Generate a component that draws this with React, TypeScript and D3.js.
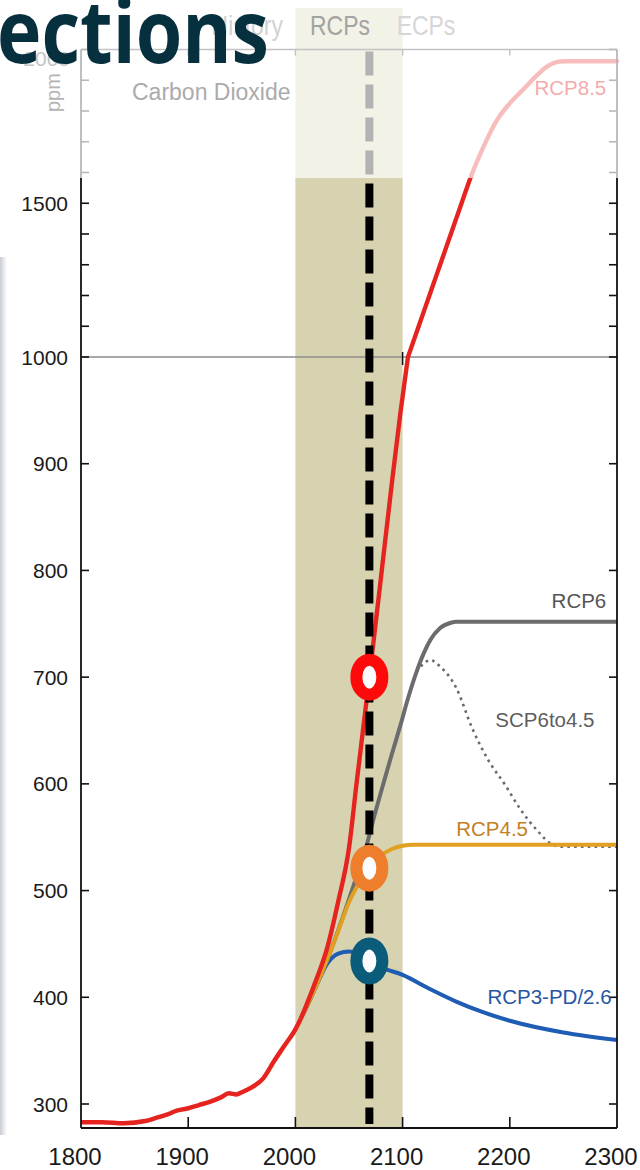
import React from 'react';
import * as d3 from 'd3';

// ---------- data ----------
const historyYears = [1800, 1820, 1840, 1860, 1870, 1880, 1890, 1900, 1910, 1920, 1930, 1938, 1945, 1950, 1960, 1970, 1980, 1990, 2000, 2005];
const historyPpm = [283, 283, 282, 284, 287, 290, 294, 296, 299, 302, 306, 310, 309, 311, 316, 324, 340, 355, 370, 380];

const rcp85Years = [2005, 2010, 2017, 2020, 2029, 2040, 2050, 2057, 2069, 2080, 2090, 2098, 2105, 2115, 2125, 2135, 2145, 2155, 2163, 2175, 2188, 2200, 2212, 2225, 2235, 2241, 2247, 2252, 2300];
const rcp85Ppm = [380, 392, 410, 418, 444, 490, 540, 600, 700, 795, 882, 948, 1000, 1100, 1200, 1300, 1400, 1500, 1580, 1680, 1770, 1825, 1868, 1915, 1945, 1956, 1961, 1962, 1962];

const rcp6Years = [2005, 2010, 2020, 2030, 2040, 2050, 2060, 2066, 2075, 2082, 2090, 2098, 2105, 2113, 2120, 2126, 2135, 2145, 2150, 2300];
const rcp6Ppm = [380, 390, 412, 436, 463, 492, 522, 541, 575, 600, 628, 655, 680, 705, 723, 735, 746, 751, 752, 752];

const scpYears = [2113, 2120, 2126, 2135, 2150, 2165, 2180, 2195, 2210, 2225, 2240, 2250, 2300];
const scpPpm = [705, 713, 716, 710, 690, 652, 622, 600, 576, 557, 543, 541, 541];

const rcp45Years = [2005, 2010, 2020, 2030, 2040, 2050, 2060, 2069, 2080, 2090, 2100, 2110, 2300];
const rcp45Ppm = [380, 390, 412, 436, 462, 489, 508, 522, 533, 539, 542, 543, 543];

const rcp26Years = [2005, 2010, 2020, 2030, 2040, 2050, 2060, 2069, 2080, 2100, 2125, 2150, 2175, 2200, 2250, 2300];
const rcp26Ppm = [380, 390, 412, 432, 441, 443, 440, 434, 428, 421, 408, 396, 386, 378, 367, 360];

const markerYear = 2069;
const markerPpm = [700, 521, 434];
const markerColors = ['#ff0a0a', '#ee7d2c', '#0b5b7a'];

const xTicks = [1800, 1900, 2000, 2100, 2200, 2300];
const yTicksLow = [300, 400, 500, 600, 700, 800, 900, 1000];
const yTicksHigh = [1100, 1200, 1300, 1400, 1500, 1600, 1700, 1800, 1900, 2000];
const yLabelsHigh = [1500];

const seriesLabels = [
  { text: 'RCP6', x: 2290, ppm: 765, color: '#555555' },
  { text: 'SCP6to4.5', x: 2279, ppm: 653, color: '#5e5e5e' },
  { text: 'RCP4.5', x: 2217, ppm: 551, color: '#c4801f' },
  { text: 'RCP3-PD/2.6', x: 2295, ppm: 394, color: '#2556a6' },
];

// ---------- scales ----------
const x = d3.scaleLinear().domain([1800, 2300]).range([81, 617]);
const yLow = d3.scaleLinear().domain([300, 1000]).range([1104, 357]);
const yHigh = d3.scaleLinear().domain([1000, 2000]).range([357, 49.5]);
const y = (v: number) => (v <= 1000 ? yLow(v) : yHigh(v));
const yBottom = 1128;
const yTop = yHigh(2000);

const line = d3
  .line<[number, number]>()
  .x((d) => x(d[0]))
  .y((d) => y(d[1]))
  .curve(d3.curveMonotoneX);

const zip = (a: number[], b: number[]) => a.map((v, i) => [v, b[i]] as [number, number]);

const FONT = '"Liberation Sans", Arial, Helvetica, sans-serif';

export default function App() {
  const dashX = x(markerYear);
  const rcp85 = zip(rcp85Years, rcp85Ppm);
  const rcp85Low = rcp85.filter((d) => d[1] <= 1000);
  const rcp85High = rcp85.filter((d) => d[1] >= 1000);
  return (
    <svg width={640} height={1170} style={{ position: 'absolute', left: 0, top: 0, background: '#fff' }}>
      <defs>
        <linearGradient id="edge" x1="0" x2="1" y1="0" y2="0">
          <stop offset="0" stopColor="#c9cdd2" />
          <stop offset="1" stopColor="#ffffff" />
        </linearGradient>
      </defs>
      <rect x={0} y={0} width={640} height={1170} fill="#ffffff" />
      {/* edge of neighbouring panel */}
      <rect x={0} y={257} width={7} height={878} fill="url(#edge)" />

      {/* RCP period band */}
      <rect x={x(2000)} y={8} width={x(2100) - x(2000)} height={yBottom - 8} fill="#d7d3b0" />

      {/* panel divider */}
      <line x1={x(1800)} x2={x(2300)} y1={y(1000)} y2={y(1000)} stroke="#8c8c8c" strokeWidth={1.3} />
      <line x1={x(2100)} x2={x(2100)} y1={y(1000) - 5} y2={y(1000) + 8} stroke="#111" strokeWidth={1.5} />

      {/* curves */}
      <path d={line(zip(rcp6Years, rcp6Ppm)) || ''} fill="none" stroke="#6c6c6e" strokeWidth={4} />
      <path d={line(zip(scpYears, scpPpm)) || ''} fill="none" stroke="#6a6a6c" strokeWidth={2.6} strokeDasharray="2.6 4.2" />
      <path d={line(zip(rcp26Years, rcp26Ppm)) || ''} fill="none" stroke="#1f5cb4" strokeWidth={4} />
      <path d={line(zip(rcp45Years, rcp45Ppm)) || ''} fill="none" stroke="#e2a020" strokeWidth={4} />
      <path d={line(rcp85Low) || ''} fill="none" stroke="#e52420" strokeWidth={4.4} strokeLinejoin="round" />
      <path d={line(rcp85High) || ''} fill="none" stroke="#e52420" strokeWidth={4.4} strokeLinecap="round" />
      <path d={line(zip(historyYears, historyPpm)) || ''} fill="none" stroke="#e52420" strokeWidth={4.5} />

      {/* dashed vertical line */}
      <line x1={dashX} x2={dashX} y1={yTop + 2} y2={yBottom - 4} stroke="#000" strokeWidth={8} strokeDasharray="24 9" />

      {/* frame */}
      <line x1={x(1800)} x2={x(2300)} y1={yTop} y2={yTop} stroke="#333" strokeWidth={1.5} />
      <line x1={x(1800)} x2={x(2300)} y1={yBottom} y2={yBottom} stroke="#111" strokeWidth={1.8} />
      <line x1={x(1800)} x2={x(1800)} y1={yTop} y2={yBottom} stroke="#111" strokeWidth={1.8} />
      <line x1={x(2300)} x2={x(2300)} y1={yTop} y2={yBottom} stroke="#111" strokeWidth={1.8} />

      {/* x ticks */}
      {xTicks.slice(1, -1).map((t) => (
        <g key={'xt' + t}>
          <line x1={x(t)} x2={x(t)} y1={yBottom} y2={yBottom - 11} stroke="#111" strokeWidth={1.6} />
          <line x1={x(t)} x2={x(t)} y1={yTop} y2={yTop + 6} stroke="#333" strokeWidth={1.4} />
        </g>
      ))}
      {xTicks.map((t) => (
        <text key={'xl' + t} x={x(t) - 6} y={1165} textAnchor="middle" fontFamily={FONT} fontSize={24} fill="#1a1a1a">
          {t}
        </text>
      ))}

      {/* y ticks */}
      {[...yTicksLow, ...yTicksHigh].map((t) => (
        <g key={'yt' + t}>
          <line x1={x(1800)} x2={x(1800) + 8} y1={y(t)} y2={y(t)} stroke="#111" strokeWidth={1.6} />
          <line x1={x(2300)} x2={x(2300) - 8} y1={y(t)} y2={y(t)} stroke="#111" strokeWidth={1.6} />
        </g>
      ))}
      {[...yTicksLow, ...yLabelsHigh].map((t) => (
        <text key={'yl' + t} x={68} y={y(t)} dy="0.36em" textAnchor="end" fontFamily={FONT} fontSize={21} fill="#1a1a1a">
          {t}
        </text>
      ))}

      {/* series labels */}
      {seriesLabels.map((s) => (
        <text key={s.text} x={x(s.x)} y={y(s.ppm)} textAnchor="end" fontFamily={FONT} fontSize={20.5} fill={s.color}>
          {s.text}
        </text>
      ))}

      {/* markers */}
      {markerPpm.map((p, i) => (
        <ellipse key={'m' + i} cx={x(markerYear)} cy={y(p)} rx={13} ry={17.5} fill="#fafcff" stroke={markerColors[i]} strokeWidth={12} />
      ))}

      {/* fading veil over the upper part */}
      <rect x={30} y={0} width={610} height={178} fill="#ffffff" opacity={0.7} />

      {/* faded texts in the upper part */}
      <text x={70} y={66} textAnchor="end" fontFamily={FONT} fontSize={21} fill="#c4c4c4">2000</text>
      <text x={x(2290)} y={y(1852)} textAnchor="end" fontFamily={FONT} fontSize={20.5} fill="#f4abab">RCP8.5</text>
      <text x={132} y={100} fontFamily={FONT} fontSize={23} fill="#ababab">Carbon Dioxide</text>
      <text transform="translate(60,112) rotate(-90)" fontFamily={FONT} fontSize={20} fill="#b4b4b4">ppm</text>
      <g fontFamily={FONT} fontSize={28}>
        <text transform="translate(283,35) scale(0.82,1)" textAnchor="end" fill="#d2d2d2">History</text>
        <text transform="translate(340,35) scale(0.82,1)" textAnchor="middle" fill="#a3a3a3">RCPs</text>
        <text transform="translate(426,35) scale(0.82,1)" textAnchor="middle" fill="#d6d6d6">ECPs</text>
      </g>

      {/* slide title (cut off at the left edge) */}
      <text x={-3} y={63} fontFamily='"Open Sans", "Noto Sans", sans-serif' fontWeight={700} fontSize={88} fill="#06303e" textLength={272} lengthAdjust="spacingAndGlyphs">
        ections
      </text>
    </svg>
  );
}
